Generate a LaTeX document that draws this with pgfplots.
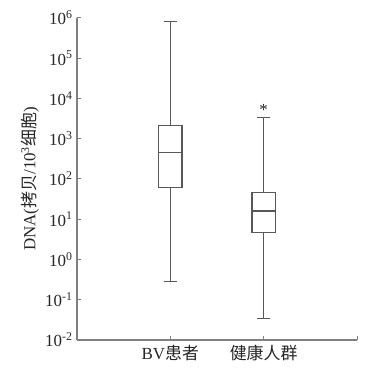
\documentclass[border=0pt]{standalone}
\usepackage{fontspec}
\setmainfont{Liberation Serif}
\newfontfamily\cjk{Noto Sans CJK SC}
\usepackage{pgfplots}
\pgfplotsset{compat=1.18}
\usepgfplotslibrary{statistics}
\definecolor{boxc}{HTML}{585858}
\definecolor{axc}{HTML}{808080}
\begin{document}
\begin{tikzpicture}
\begin{axis}[
  name=ax,
  scale only axis,
  width=280bp, height=322bp,
  ymode=log, log basis y=10,
  ymin=1e-2, ymax=1e6,
  xmin=0, xmax=3,
  axis lines*=left,
  axis line style={axc, line width=1.1bp},
  tick style={axc, line width=1bp},
  tick align=inside,
  major tick length=4bp,
  minor tick num=0,
  ytickten={-2,...,6},
  ytick={1e-2,1e-1,1,1e1,1e2,1e3,1e4,1e5,1e6},
  yticklabels={10\textsuperscript{-2},10\textsuperscript{-1},10\textsuperscript{0},10\textsuperscript{1},10\textsuperscript{2},10\textsuperscript{3},10\textsuperscript{4},10\textsuperscript{5},10\textsuperscript{6}},
  xtick={1,2,3},
  xticklabels={BV{\cjk 患者},{\cjk 健康人群},{}},
  ticklabel style={font=\fontsize{17}{20}\selectfont, text=black!85},
  yticklabel style={xshift=-1bp},
  xticklabel style={yshift=-2bp},
  ylabel={DNA({\cjk 拷贝}/10\textsuperscript{3}{\cjk 细胞})},
  ylabel style={font=\fontsize{17}{20}\selectfont, text=black!85, at={(axis description cs:-0.168,0.5)}, anchor=center},
  clip=false,
  boxplot/draw direction=y,
  boxplot/box extend=0.25,
  boxplot/whisker extend=0.14,
]
\addplot+[boxplot prepared={
  lower whisker=0.29, lower quartile=61, median=460,
  upper quartile=2100, upper whisker=800000},
  draw=boxc, line width=1.1bp, solid, mark=none] coordinates {};
\addplot+[boxplot prepared={
  lower whisker=0.035, lower quartile=4.7, median=16,
  upper quartile=47, upper whisker=3300},
  draw=boxc, line width=1.1bp, solid, mark=none] coordinates {};
\node[font=\fontsize{17}{20}\selectfont, text=black!85] at (axis cs:2,5200) {*};
\end{axis}
\pgfresetboundingbox
\path ([shift={(-77bp,-39bp)}]ax.south west) rectangle ([shift={(10bp,18bp)}]ax.north east);
\end{tikzpicture}
\end{document}
